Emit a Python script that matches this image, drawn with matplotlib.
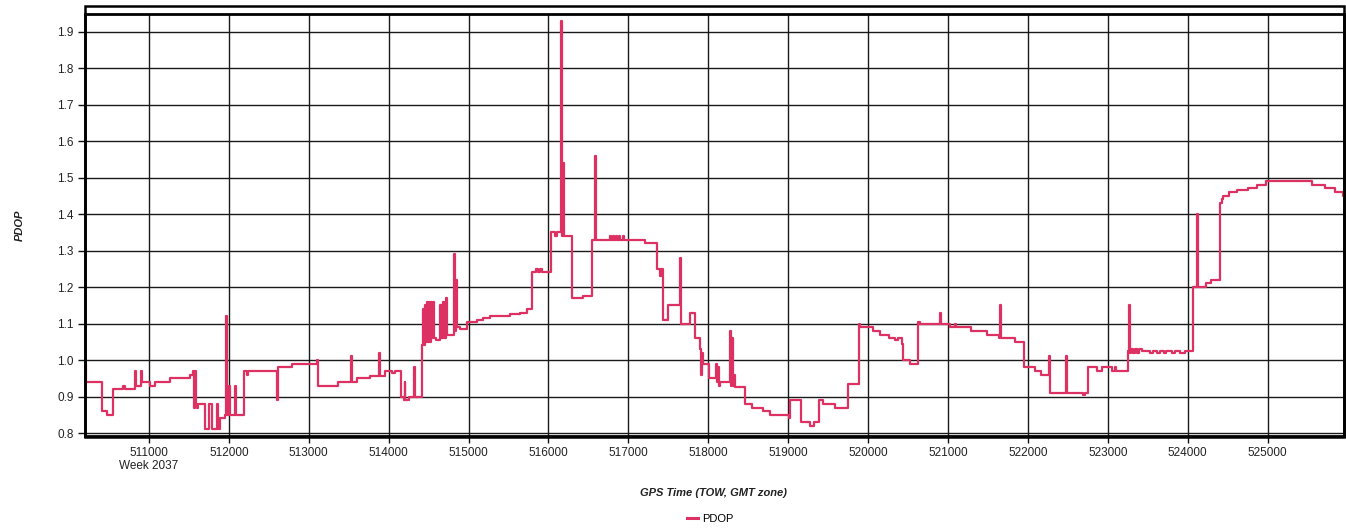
import matplotlib
matplotlib.use("Agg")
import matplotlib.pyplot as plt
from matplotlib.patches import Rectangle
from matplotlib.lines import Line2D

plt.rcParams['font.family'] = ['Liberation Sans', 'DejaVu Sans']

tow = [
    510200, 510210, 510410, 510470, 510550, 510670, 510700, 510820, 510840, 510900,
    510910, 511010, 511080, 511260, 511510, 511550, 511560, 511580, 511590, 511600,
    511610, 511700, 511750, 511790, 511850, 511860, 511890, 511950, 511960, 511980,
    512000, 512010, 512080, 512090, 512190, 512230, 512240, 512600, 512610, 512790,
    513100, 513120, 513370, 513530, 513540, 513600, 513770, 513880, 513890, 513950,
    514040, 514080, 514150, 514190, 514200, 514210, 514250, 514320, 514330, 514420,
    514430, 514440, 514450, 514470, 514480, 514490, 514500, 514520, 514530, 514540,
    514550, 514570, 514590, 514640, 514650, 514680, 514690, 514720, 514730, 514820,
    514830, 514840, 514850, 514890, 514980, 515100, 515180, 515270, 515520, 515640,
    515730, 515790, 515840, 515870, 515890, 515920, 516030, 516080, 516110, 516160,
    516170, 516180, 516190, 516290, 516430, 516540, 516580, 516590, 516770, 516780,
    516810, 516820, 516840, 516860, 516880, 516890, 516930, 516940, 517210, 517360,
    517400, 517410, 517430, 517500, 517650, 517660, 517770, 517830, 517900, 517910,
    517920, 517930, 518010, 518100, 518110, 518120, 518130, 518150, 518270, 518280,
    518300, 518310, 518320, 518330, 518460, 518550, 518680, 518770, 519010, 519020,
    519160, 519270, 519320, 519390, 519440, 519590, 519750, 519890, 519900, 520060,
    520150, 520260, 520340, 520370, 520420, 520440, 520520, 520620, 520650, 520900,
    520910, 521020, 521090, 521100, 521290, 521490, 521640, 521650, 521660, 521840,
    521950, 522090, 522160, 522260, 522280, 522480, 522490, 522690, 522710, 522750,
    522860, 522930, 523050, 523090, 523100, 523250, 523260, 523280, 523290, 523320,
    523340, 523370, 523390, 523430, 523530, 523570, 523620, 523650, 523700, 523730,
    523800, 523840, 523900, 523970, 524070, 524120, 524130, 524230, 524290, 524400,
    524430, 524440, 524520, 524620, 524750, 524870, 524980, 525560, 525720, 525840,
    525940, 525950,
]

pdop = [
    0.99, 0.94, 0.86, 0.85, 0.92, 0.93, 0.92, 0.97, 0.93, 0.97,
    0.94, 0.93, 0.94, 0.95, 0.96, 0.97, 0.87, 0.97, 0.88, 0.87,
    0.88, 0.81, 0.88, 0.81, 0.88, 0.81, 0.84, 0.85, 1.12, 0.85,
    0.93, 0.85, 0.93, 0.85, 0.97, 0.96, 0.97, 0.89, 0.98, 0.99,
    1.00, 0.93, 0.94, 1.01, 0.94, 0.95, 0.955, 1.02, 0.955, 0.97,
    0.965, 0.97, 0.90, 0.89, 0.94, 0.89, 0.90, 0.98, 0.90, 1.04,
    1.14, 1.04, 1.15, 1.05, 1.16, 1.05, 1.16, 1.05, 1.16, 1.06,
    1.16, 1.06, 1.055, 1.15, 1.06, 1.16, 1.06, 1.17, 1.07, 1.29,
    1.08, 1.22, 1.09, 1.085, 1.105, 1.11, 1.115, 1.12, 1.125, 1.13,
    1.14, 1.24, 1.25, 1.24, 1.25, 1.24, 1.35, 1.34, 1.35, 1.93,
    1.34, 1.54, 1.34, 1.17, 1.175, 1.33, 1.56, 1.33, 1.34, 1.33,
    1.34, 1.33, 1.34, 1.33, 1.34, 1.33, 1.34, 1.33, 1.32, 1.25,
    1.23, 1.25, 1.11, 1.15, 1.28, 1.10, 1.13, 1.06, 1.03, 0.96,
    1.02, 0.99, 0.95, 0.99, 0.94, 0.98, 0.93, 0.94, 1.08, 0.93,
    1.06, 0.93, 0.96, 0.925, 0.88, 0.87, 0.86, 0.85, 0.84, 0.89,
    0.83, 0.82, 0.83, 0.89, 0.88, 0.87, 0.935, 1.10, 1.09, 1.08,
    1.07, 1.06, 1.055, 1.06, 1.045, 1.00, 0.99, 1.105, 1.10, 1.13,
    1.10, 1.09, 1.10, 1.09, 1.08, 1.07, 1.06, 1.15, 1.06, 1.05,
    0.98, 0.97, 0.96, 1.01, 0.91, 1.01, 0.91, 0.905, 0.91, 0.98,
    0.97, 0.98, 0.97, 0.98, 0.97, 1.025, 1.15, 1.02, 1.03, 1.02,
    1.03, 1.02, 1.03, 1.025, 1.02, 1.025, 1.02, 1.025, 1.02, 1.025,
    1.02, 1.025, 1.02, 1.025, 1.20, 1.40, 1.20, 1.21, 1.22, 1.43,
    1.44, 1.45, 1.46, 1.465, 1.47, 1.48, 1.49, 1.48, 1.47, 1.46,
    1.45, 1.45,
]

x_ticks = [511000, 512000, 513000, 514000, 515000, 516000, 517000,
           518000, 519000, 520000, 521000, 522000, 523000, 524000, 525000]
x_tick_labels = ["511000\nWeek 2037"] + [str(t) for t in x_ticks[1:]]
y_ticks = [0.8, 0.9, 1.0, 1.1, 1.2, 1.3, 1.4, 1.5, 1.6, 1.7, 1.8, 1.9]

W, H = 1346, 531
fig = plt.figure(figsize=(W / 100, H / 100), dpi=100)
ax = fig.add_axes([85 / W, 1 - 436 / H, (1344 - 85) / W, (436 - 14) / H])

line_color = '#DE3163'
ax.plot(tow, pdop, drawstyle='steps-post', color=line_color, lw=1.6, label='PDOP')

ax.set_xlim(510200, 525955)
ax.set_ylim(0.792, 1.948)
ax.set_xticks(x_ticks)
ax.set_xticklabels(x_tick_labels, fontsize=8.5, color='#222222', linespacing=1.15)
ax.set_yticks(y_ticks)
ax.set_yticklabels([f"{v:.1f}" for v in y_ticks], fontsize=8.5, color='#222222')
ax.tick_params(axis='both', direction='out', length=5, width=1.0, color='#111111', pad=3)
ax.grid(True, color='#1a1a1a', lw=1.0)
ax.set_axisbelow(True)
for s in ax.spines.values():
    s.set_color('black')
    s.set_linewidth(2.0)

# outer double frame
fig.add_artist(Rectangle((85 / W, 1 - 437 / H), (1344 - 85) / W, (437 - 6) / H,
                         transform=fig.transFigure, fill=False, edgecolor='black', lw=1.8))

fig.text(714 / W, 1 - 493 / H, "GPS Time (TOW, GMT zone)", fontsize=8, fontweight='bold',
         fontstyle='italic', color='#222222', ha='center', va='center')
fig.text(20 / W, 1 - 225 / H, "PDOP", rotation=90, fontsize=8, fontweight='bold',
         fontstyle='italic', color='#222222', ha='center', va='center')

handle = Line2D([], [], color=line_color, lw=2.2)
fig.legend([handle], ['PDOP'], loc='center', bbox_to_anchor=(710 / W, 1 - 519 / H),
           frameon=False, fontsize=8, handlelength=1.0, handletextpad=0.4)

fig.savefig("out.png", dpi=100)
